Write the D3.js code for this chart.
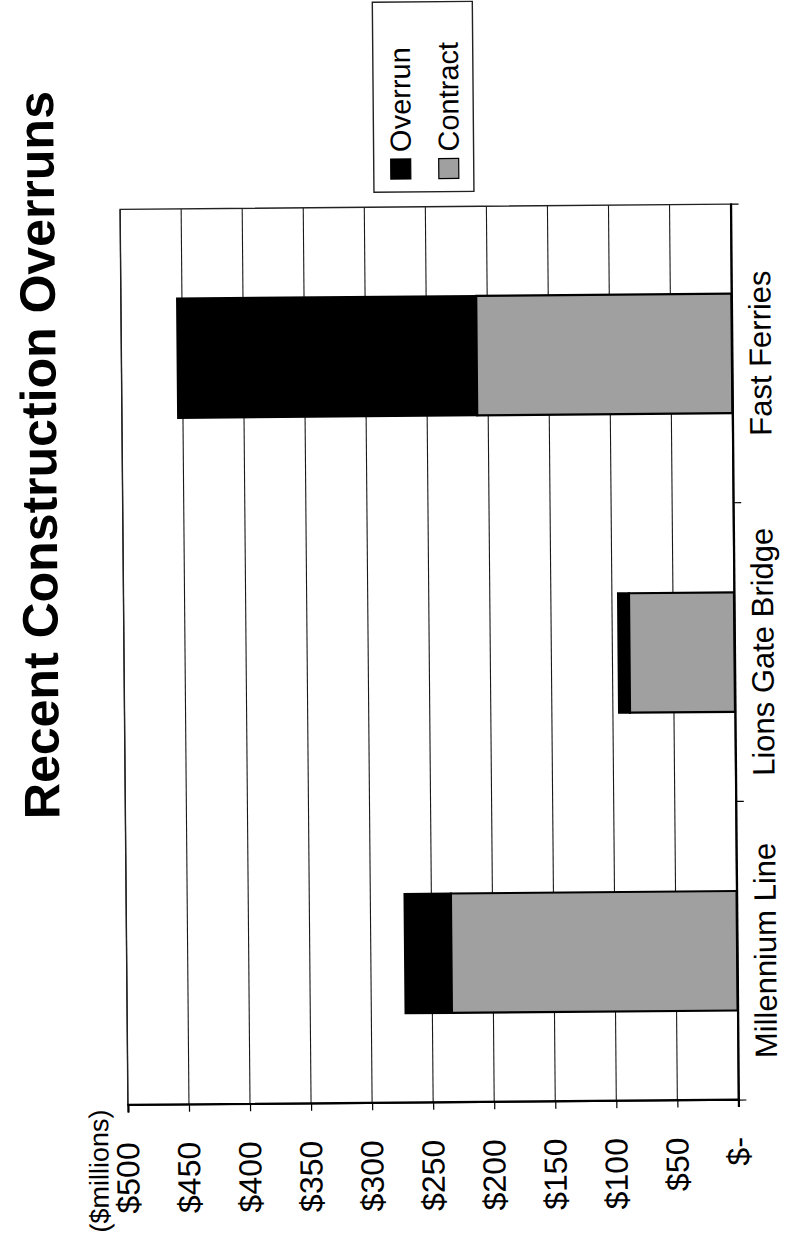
<!DOCTYPE html>
<html>
<head>
<meta charset="utf-8">
<script src="https://cdn.jsdelivr.net/npm/d3@7"></script>
<style>
  html, body { margin: 0; padding: 0; background: #fff; }
  svg { display: block; }
  text { font-family: "Liberation Sans", Arial, sans-serif; fill: #000; }
</style>
</head>
<body>
<svg id="chart" width="801" height="1234"></svg>
<script>
// ---- data ----
const categories = ["Millennium Line", "Lions Gate Bridge", "Fast Ferries"];
const contractValues = [234, 86, 209];
const overrunValues = [38, 9, 245];
const tickValues = [0, 50, 100, 150, 200, 250, 300, 350, 400, 450, 500];
const tickLabels = ["$-", "$50", "$100", "$150", "$200", "$250", "$300", "$350", "$400", "$450", "$500"];
const seriesNames = ["Overrun", "Contract"];
const titleText = "Recent Construction Overruns";
const unitText = "($millions)";

// ---- layout (chart drawn unrotated, then turned -90deg) ----
const W = 1234, H = 801;
const plot = { left: 131, right: 1027, top: 124, bottom: 734.5 };
const svg = d3.select("#chart");
const root = svg.append("g")
  .attr("transform", "rotate(-0.5,400,655) translate(0," + W + ") rotate(-90)");

const x = d3.scaleBand().domain(categories).range([plot.left, plot.right])
  .paddingInner(0.6).paddingOuter(0.3);
const y = d3.scaleLinear().domain([0, 500]).range([plot.bottom, plot.top]);

const contractFill = "#a0a0a0";

// gridlines
root.append("g").selectAll("line").data(tickValues.filter(v => v > 0)).join("line")
  .attr("x1", plot.left).attr("x2", plot.right)
  .attr("y1", d => y(d)).attr("y2", d => y(d))
  .attr("stroke", "#1a1a1a").attr("stroke-width", 1.1);

// plot border
root.append("rect")
  .attr("x", plot.left).attr("y", plot.top)
  .attr("width", plot.right - plot.left).attr("height", plot.bottom - plot.top)
  .attr("fill", "none").attr("stroke", "#222").attr("stroke-width", 1.4);

// bars
const rows = categories.map((c, i) => ({ cat: c, contract: contractValues[i], overrun: overrunValues[i] }));
const bars = root.append("g");
bars.selectAll("rect.over").data(rows).join("rect").attr("class", "over")
  .attr("x", d => x(d.cat)).attr("width", x.bandwidth())
  .attr("y", d => y(d.contract + d.overrun))
  .attr("height", d => y(d.contract) - y(d.contract + d.overrun))
  .attr("fill", "#000").attr("stroke", "#000").attr("stroke-width", 2);
bars.selectAll("rect.con").data(rows).join("rect").attr("class", "con")
  .attr("x", d => x(d.cat)).attr("width", x.bandwidth())
  .attr("y", d => y(d.contract))
  .attr("height", d => y(0) - y(d.contract))
  .attr("fill", contractFill).attr("stroke", "#000").attr("stroke-width", 2.2);

// value axis (original left axis)
const yAxis = d3.axisLeft(y).tickValues(tickValues)
  .tickFormat((d, i) => tickLabels[i]).tickSize(7).tickPadding(30);
const ya = root.append("g").attr("transform", "translate(" + plot.left + ",0)").call(yAxis);
ya.select(".domain").attr("stroke", "#000").attr("stroke-width", 2.2);
ya.selectAll(".tick line").attr("stroke", "#000").attr("stroke-width", 1.2);
ya.selectAll(".tick text").attr("font-size", 32)
  .attr("font-family", "'Liberation Sans', Arial, sans-serif").attr("fill", "#000");

// category axis (original bottom axis)
const xAxis = d3.axisBottom(x).tickSizeInner(0).tickSizeOuter(0).tickPadding(17);
const xa = root.append("g").attr("transform", "translate(0," + plot.bottom + ")").call(xAxis);
xa.select(".domain").attr("stroke", "#000").attr("stroke-width", 2.2);
xa.selectAll(".tick text").attr("font-size", 31)
  .attr("font-family", "'Liberation Sans', Arial, sans-serif").attr("fill", "#000");
// tick marks between categories
const step = x.step();
const boundaries = [plot.left].concat(categories.map(c => x(c) - x.paddingInner() * step / 2).slice(1), [plot.right]);
xa.append("g").selectAll("line").data(boundaries).join("line")
  .attr("x1", d => d).attr("x2", d => d).attr("y1", 0).attr("y2", 8)
  .attr("stroke", "#000").attr("stroke-width", 1.2);

// title
root.append("text").attr("x", 782).attr("y", 58)
  .attr("text-anchor", "middle").attr("font-size", 50).attr("font-weight", "bold")
  .text(titleText);

// unit label
root.append("text").attr("x", 4).attr("y", 104)
  .attr("text-anchor", "start").attr("font-size", 27)
  .text(unitText);

// legend
const lg = root.append("g");
lg.append("rect").attr("x", 1042).attr("y", 378).attr("width", 190).attr("height", 100)
  .attr("fill", "#fff").attr("stroke", "#222").attr("stroke-width", 1.4);
const legendRows = [
  { name: seriesNames[0], fill: "#000", cy: 405 },
  { name: seriesNames[1], fill: contractFill, cy: 453 }
];
lg.selectAll("rect.sw").data(legendRows).join("rect").attr("class", "sw")
  .attr("x", 1055).attr("y", d => d.cy - 10).attr("width", 20).attr("height", 20)
  .attr("fill", d => d.fill).attr("stroke", "#000").attr("stroke-width", 1.2);
lg.selectAll("text").data(legendRows).join("text")
  .attr("x", 1082).attr("y", d => d.cy).attr("dy", "0.35em")
  .attr("font-size", 29).text(d => d.name);
</script>
</body>
</html>
